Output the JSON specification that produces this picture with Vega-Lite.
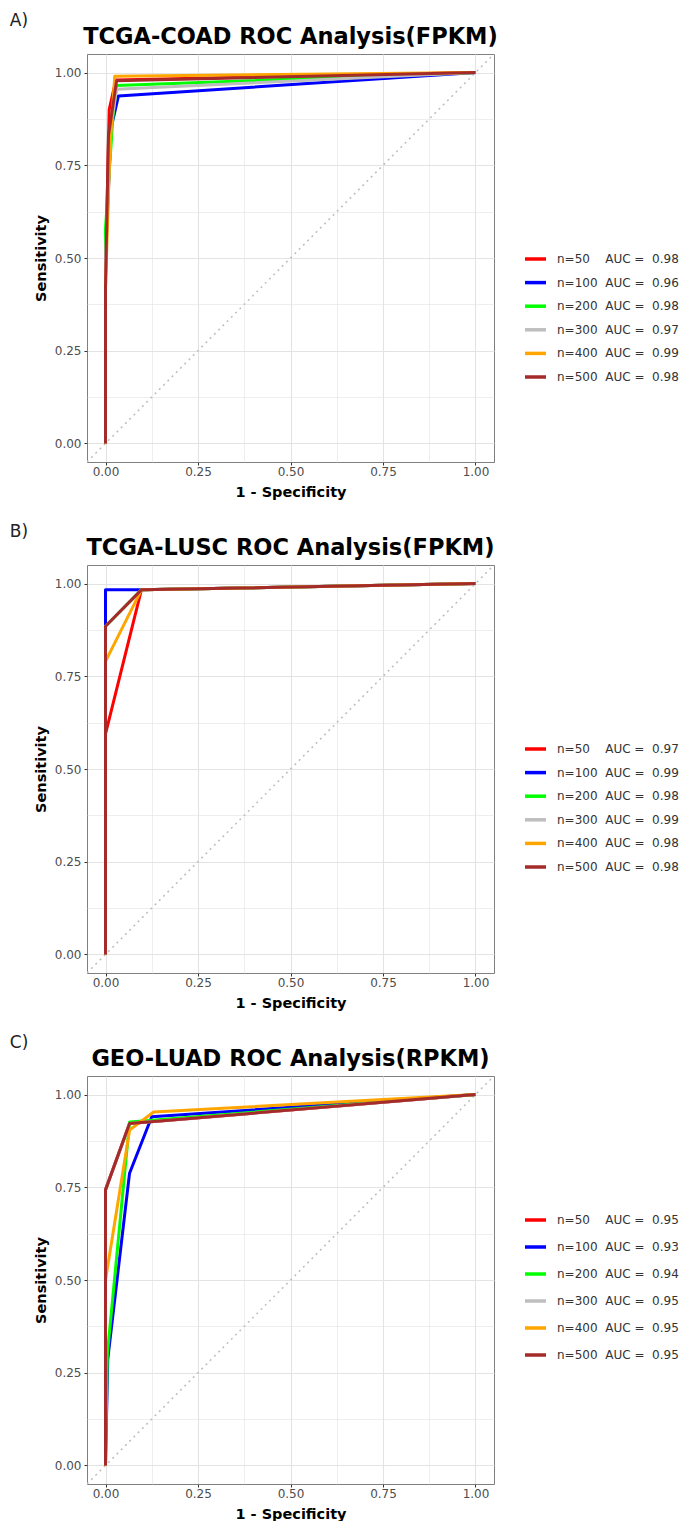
{
  "$schema": "https://vega.github.io/schema/vega-lite/v6.json",
  "padding": {"left": 9, "top": 12, "right": 0, "bottom": 0},
  "spacing": 24,
  "resolve": {"scale": {"color": "independent"}, "legend": {"color": "independent"}},
  "config": {
    "font": "DejaVu Sans",
    "view": {"stroke": "#7f7f7f", "strokeWidth": 1},
    "axis": {"domain": false, "gridColor": "#e3e3e3", "tickColor": "#333333", "tickSize": 3, "labelFontSize": 12, "labelColor": "#4d4d4d", "labelPadding": 3, "titleFontSize": 14.5, "titleFontWeight": "bold", "titleColor": "#000000", "titlePadding": 6, "labelOverlap": false, "labelFlush": false},
    "axisX": {"labelPadding": 1, "titlePadding": 8},
    "legend": {"symbolType": "stroke", "symbolSize": 441, "symbolStrokeWidth": 3.5, "labelFontSize": 12, "labelColor": "#333333", "labelOffset": 9, "rowPadding": 3.6, "padding": 0, "orient": "none", "labelLimit": 200}
  },
  "vconcat": [
    {
      "title": {"text": "A)", "anchor": "start", "frame": "bounds", "fontSize": 17, "fontWeight": "normal", "color": "#222222", "dx": -23, "offset": -5},
      "resolve": {"scale": {"color": "independent"}},
      "vconcat": [
        {
          "title": {"text": "TCGA-COAD ROC Analysis(FPKM)", "anchor": "middle", "frame": "group", "fontSize": 22.5, "fontWeight": "bold", "color": "#000000", "offset": 6},
          "width": 407, "height": 408,
          "encoding": {
            "x": {"field": "x", "type": "quantitative", "scale": {"domain": [-0.05, 1.05], "nice": false, "zero": false},
              "axis": {"title": "1 - Specificity", "values": [0, 0.125, 0.25, 0.375, 0.5, 0.625, 0.75, 0.875, 1], "labelExpr": "(datum.value*4)%1===0 ? format(datum.value,'.2f') : ''", "tickOpacity": {"condition": {"test": "(datum.value*4)%1===0", "value": 1}, "value": 0}, "gridWidth": {"condition": {"test": "(datum.value*4)%1===0", "value": 1.1}, "value": 0.6}}},
            "y": {"field": "y", "type": "quantitative", "scale": {"domain": [-0.05, 1.05], "nice": false, "zero": false},
              "axis": {"title": "Sensitivity", "values": [0, 0.125, 0.25, 0.375, 0.5, 0.625, 0.75, 0.875, 1], "labelExpr": "(datum.value*4)%1===0 ? format(datum.value,'.2f') : ''", "tickOpacity": {"condition": {"test": "(datum.value*4)%1===0", "value": 1}, "value": 0}, "gridWidth": {"condition": {"test": "(datum.value*4)%1===0", "value": 1.1}, "value": 0.6}}}
          },
          "layer": [
            {"data": {"values": [{"x": -0.05, "y": -0.05}, {"x": 1.05, "y": 1.05}]},
             "mark": {"type": "line", "color": "#bdbdbd", "strokeDash": [2, 4], "strokeWidth": 1.5, "clip": true}},
            {"data": {"values": [
              {"g": "n=50\u00a0\u00a0\u00a0\u00a0AUC\u00a0=\u00a0\u00a00.98", "i": 0, "x": 0, "y": 0},
              {"g": "n=50\u00a0\u00a0\u00a0\u00a0AUC\u00a0=\u00a0\u00a00.98", "i": 1, "x": 0, "y": 0.45},
              {"g": "n=50\u00a0\u00a0\u00a0\u00a0AUC\u00a0=\u00a0\u00a00.98", "i": 2, "x": 0.01, "y": 0.9},
              {"g": "n=50\u00a0\u00a0\u00a0\u00a0AUC\u00a0=\u00a0\u00a00.98", "i": 3, "x": 0.028, "y": 0.98},
              {"g": "n=50\u00a0\u00a0\u00a0\u00a0AUC\u00a0=\u00a0\u00a00.98", "i": 4, "x": 1, "y": 1},
              {"g": "n=100\u00a0\u00a0AUC\u00a0=\u00a0\u00a00.96", "i": 0, "x": 0, "y": 0},
              {"g": "n=100\u00a0\u00a0AUC\u00a0=\u00a0\u00a00.96", "i": 1, "x": 0, "y": 0.5},
              {"g": "n=100\u00a0\u00a0AUC\u00a0=\u00a0\u00a00.96", "i": 2, "x": 0.015, "y": 0.85},
              {"g": "n=100\u00a0\u00a0AUC\u00a0=\u00a0\u00a00.96", "i": 3, "x": 0.035, "y": 0.937},
              {"g": "n=100\u00a0\u00a0AUC\u00a0=\u00a0\u00a00.96", "i": 4, "x": 1, "y": 1},
              {"g": "n=200\u00a0\u00a0AUC\u00a0=\u00a0\u00a00.98", "i": 0, "x": 0, "y": 0},
              {"g": "n=200\u00a0\u00a0AUC\u00a0=\u00a0\u00a00.98", "i": 1, "x": 0, "y": 0.58},
              {"g": "n=200\u00a0\u00a0AUC\u00a0=\u00a0\u00a00.98", "i": 2, "x": 0.02, "y": 0.88},
              {"g": "n=200\u00a0\u00a0AUC\u00a0=\u00a0\u00a00.98", "i": 3, "x": 0.03, "y": 0.965},
              {"g": "n=200\u00a0\u00a0AUC\u00a0=\u00a0\u00a00.98", "i": 4, "x": 1, "y": 1},
              {"g": "n=300\u00a0\u00a0AUC\u00a0=\u00a0\u00a00.97", "i": 0, "x": 0, "y": 0},
              {"g": "n=300\u00a0\u00a0AUC\u00a0=\u00a0\u00a00.97", "i": 1, "x": 0, "y": 0.5},
              {"g": "n=300\u00a0\u00a0AUC\u00a0=\u00a0\u00a00.97", "i": 2, "x": 0.015, "y": 0.86},
              {"g": "n=300\u00a0\u00a0AUC\u00a0=\u00a0\u00a00.97", "i": 3, "x": 0.03, "y": 0.955},
              {"g": "n=300\u00a0\u00a0AUC\u00a0=\u00a0\u00a00.97", "i": 4, "x": 1, "y": 1},
              {"g": "n=400\u00a0\u00a0AUC\u00a0=\u00a0\u00a00.99", "i": 0, "x": 0, "y": 0},
              {"g": "n=400\u00a0\u00a0AUC\u00a0=\u00a0\u00a00.99", "i": 1, "x": 0, "y": 0.42},
              {"g": "n=400\u00a0\u00a0AUC\u00a0=\u00a0\u00a00.99", "i": 2, "x": 0.012, "y": 0.8},
              {"g": "n=400\u00a0\u00a0AUC\u00a0=\u00a0\u00a00.99", "i": 3, "x": 0.025, "y": 0.99},
              {"g": "n=400\u00a0\u00a0AUC\u00a0=\u00a0\u00a00.99", "i": 4, "x": 1, "y": 1},
              {"g": "n=500\u00a0\u00a0AUC\u00a0=\u00a0\u00a00.98", "i": 0, "x": 0, "y": 0},
              {"g": "n=500\u00a0\u00a0AUC\u00a0=\u00a0\u00a00.98", "i": 1, "x": 0, "y": 0.42},
              {"g": "n=500\u00a0\u00a0AUC\u00a0=\u00a0\u00a00.98", "i": 2, "x": 0.008, "y": 0.83},
              {"g": "n=500\u00a0\u00a0AUC\u00a0=\u00a0\u00a00.98", "i": 3, "x": 0.03, "y": 0.978},
              {"g": "n=500\u00a0\u00a0AUC\u00a0=\u00a0\u00a00.98", "i": 4, "x": 1, "y": 1}
            ]},
             "mark": {"type": "line", "strokeWidth": 3, "strokeJoin": "round"},
             "encoding": {
               "order": {"field": "i", "type": "quantitative"},
               "color": {"field": "g", "type": "nominal",
                 "scale": {"domain": ["n=50\u00a0\u00a0\u00a0\u00a0AUC\u00a0=\u00a0\u00a00.98", "n=100\u00a0\u00a0AUC\u00a0=\u00a0\u00a00.96", "n=200\u00a0\u00a0AUC\u00a0=\u00a0\u00a00.98", "n=300\u00a0\u00a0AUC\u00a0=\u00a0\u00a00.97", "n=400\u00a0\u00a0AUC\u00a0=\u00a0\u00a00.99", "n=500\u00a0\u00a0AUC\u00a0=\u00a0\u00a00.98"],
                           "range": ["#ff0000", "#0000ff", "#00ff00", "#bebebe", "#ffa500", "#a52a2a"]},
                 "legend": {"title": null, "legendX": 436, "legendY": 192.5}}
             }}
          ]
        }
      ]
    },
    {
      "title": {"text": "B)", "anchor": "start", "frame": "bounds", "fontSize": 17, "fontWeight": "normal", "color": "#222222", "dx": -23, "offset": -5},
      "resolve": {"scale": {"color": "independent"}},
      "vconcat": [
        {
          "title": {"text": "TCGA-LUSC ROC Analysis(FPKM)", "anchor": "middle", "frame": "group", "fontSize": 22.5, "fontWeight": "bold", "color": "#000000", "offset": 6},
          "width": 407, "height": 408,
          "encoding": {
            "x": {"field": "x", "type": "quantitative", "scale": {"domain": [-0.05, 1.05], "nice": false, "zero": false},
              "axis": {"title": "1 - Specificity", "values": [0, 0.125, 0.25, 0.375, 0.5, 0.625, 0.75, 0.875, 1], "labelExpr": "(datum.value*4)%1===0 ? format(datum.value,'.2f') : ''", "tickOpacity": {"condition": {"test": "(datum.value*4)%1===0", "value": 1}, "value": 0}, "gridWidth": {"condition": {"test": "(datum.value*4)%1===0", "value": 1.1}, "value": 0.6}}},
            "y": {"field": "y", "type": "quantitative", "scale": {"domain": [-0.05, 1.05], "nice": false, "zero": false},
              "axis": {"title": "Sensitivity", "values": [0, 0.125, 0.25, 0.375, 0.5, 0.625, 0.75, 0.875, 1], "labelExpr": "(datum.value*4)%1===0 ? format(datum.value,'.2f') : ''", "tickOpacity": {"condition": {"test": "(datum.value*4)%1===0", "value": 1}, "value": 0}, "gridWidth": {"condition": {"test": "(datum.value*4)%1===0", "value": 1.1}, "value": 0.6}}}
          },
          "layer": [
            {"data": {"values": [{"x": -0.05, "y": -0.05}, {"x": 1.05, "y": 1.05}]},
             "mark": {"type": "line", "color": "#bdbdbd", "strokeDash": [2, 4], "strokeWidth": 1.5, "clip": true}},
            {"data": {"values": [
              {"g": "n=50\u00a0\u00a0\u00a0\u00a0AUC\u00a0=\u00a0\u00a00.97", "i": 0, "x": 0, "y": 0},
              {"g": "n=50\u00a0\u00a0\u00a0\u00a0AUC\u00a0=\u00a0\u00a00.97", "i": 1, "x": 0, "y": 0.595},
              {"g": "n=50\u00a0\u00a0\u00a0\u00a0AUC\u00a0=\u00a0\u00a00.97", "i": 2, "x": 0.097, "y": 0.983},
              {"g": "n=50\u00a0\u00a0\u00a0\u00a0AUC\u00a0=\u00a0\u00a00.97", "i": 3, "x": 1, "y": 1},
              {"g": "n=100\u00a0\u00a0AUC\u00a0=\u00a0\u00a00.99", "i": 0, "x": 0, "y": 0},
              {"g": "n=100\u00a0\u00a0AUC\u00a0=\u00a0\u00a00.99", "i": 1, "x": 0, "y": 0.983},
              {"g": "n=100\u00a0\u00a0AUC\u00a0=\u00a0\u00a00.99", "i": 2, "x": 0.09, "y": 0.983},
              {"g": "n=100\u00a0\u00a0AUC\u00a0=\u00a0\u00a00.99", "i": 3, "x": 1, "y": 1},
              {"g": "n=200\u00a0\u00a0AUC\u00a0=\u00a0\u00a00.98", "i": 0, "x": 0, "y": 0},
              {"g": "n=200\u00a0\u00a0AUC\u00a0=\u00a0\u00a00.98", "i": 1, "x": 0, "y": 0.885},
              {"g": "n=200\u00a0\u00a0AUC\u00a0=\u00a0\u00a00.98", "i": 2, "x": 0.097, "y": 0.983},
              {"g": "n=200\u00a0\u00a0AUC\u00a0=\u00a0\u00a00.98", "i": 3, "x": 1, "y": 1},
              {"g": "n=300\u00a0\u00a0AUC\u00a0=\u00a0\u00a00.99", "i": 0, "x": 0, "y": 0},
              {"g": "n=300\u00a0\u00a0AUC\u00a0=\u00a0\u00a00.99", "i": 1, "x": 0, "y": 0.885},
              {"g": "n=300\u00a0\u00a0AUC\u00a0=\u00a0\u00a00.99", "i": 2, "x": 0.097, "y": 0.983},
              {"g": "n=300\u00a0\u00a0AUC\u00a0=\u00a0\u00a00.99", "i": 3, "x": 1, "y": 1},
              {"g": "n=400\u00a0\u00a0AUC\u00a0=\u00a0\u00a00.98", "i": 0, "x": 0, "y": 0},
              {"g": "n=400\u00a0\u00a0AUC\u00a0=\u00a0\u00a00.98", "i": 1, "x": 0, "y": 0.79},
              {"g": "n=400\u00a0\u00a0AUC\u00a0=\u00a0\u00a00.98", "i": 2, "x": 0.097, "y": 0.983},
              {"g": "n=400\u00a0\u00a0AUC\u00a0=\u00a0\u00a00.98", "i": 3, "x": 1, "y": 1},
              {"g": "n=500\u00a0\u00a0AUC\u00a0=\u00a0\u00a00.98", "i": 0, "x": 0, "y": 0},
              {"g": "n=500\u00a0\u00a0AUC\u00a0=\u00a0\u00a00.98", "i": 1, "x": 0, "y": 0.885},
              {"g": "n=500\u00a0\u00a0AUC\u00a0=\u00a0\u00a00.98", "i": 2, "x": 0.097, "y": 0.983},
              {"g": "n=500\u00a0\u00a0AUC\u00a0=\u00a0\u00a00.98", "i": 3, "x": 1, "y": 1}
            ]},
             "mark": {"type": "line", "strokeWidth": 3, "strokeJoin": "round"},
             "encoding": {
               "order": {"field": "i", "type": "quantitative"},
               "color": {"field": "g", "type": "nominal",
                 "scale": {"domain": ["n=50\u00a0\u00a0\u00a0\u00a0AUC\u00a0=\u00a0\u00a00.97", "n=100\u00a0\u00a0AUC\u00a0=\u00a0\u00a00.99", "n=200\u00a0\u00a0AUC\u00a0=\u00a0\u00a00.98", "n=300\u00a0\u00a0AUC\u00a0=\u00a0\u00a00.99", "n=400\u00a0\u00a0AUC\u00a0=\u00a0\u00a00.98", "n=500\u00a0\u00a0AUC\u00a0=\u00a0\u00a00.98"],
                           "range": ["#ff0000", "#0000ff", "#00ff00", "#bebebe", "#ffa500", "#a52a2a"]},
                 "legend": {"title": null, "legendX": 436, "legendY": 171.5}}
             }}
          ]
        }
      ]
    },
    {
      "title": {"text": "C)", "anchor": "start", "frame": "bounds", "fontSize": 17, "fontWeight": "normal", "color": "#222222", "dx": -23, "offset": -5},
      "resolve": {"scale": {"color": "independent"}},
      "vconcat": [
        {
          "title": {"text": "GEO-LUAD ROC Analysis(RPKM)", "anchor": "middle", "frame": "group", "fontSize": 22.5, "fontWeight": "bold", "color": "#000000", "offset": 6},
          "width": 407, "height": 408,
          "encoding": {
            "x": {"field": "x", "type": "quantitative", "scale": {"domain": [-0.05, 1.05], "nice": false, "zero": false},
              "axis": {"title": "1 - Specificity", "values": [0, 0.125, 0.25, 0.375, 0.5, 0.625, 0.75, 0.875, 1], "labelExpr": "(datum.value*4)%1===0 ? format(datum.value,'.2f') : ''", "tickOpacity": {"condition": {"test": "(datum.value*4)%1===0", "value": 1}, "value": 0}, "gridWidth": {"condition": {"test": "(datum.value*4)%1===0", "value": 1.1}, "value": 0.6}}},
            "y": {"field": "y", "type": "quantitative", "scale": {"domain": [-0.05, 1.05], "nice": false, "zero": false},
              "axis": {"title": "Sensitivity", "values": [0, 0.125, 0.25, 0.375, 0.5, 0.625, 0.75, 0.875, 1], "labelExpr": "(datum.value*4)%1===0 ? format(datum.value,'.2f') : ''", "tickOpacity": {"condition": {"test": "(datum.value*4)%1===0", "value": 1}, "value": 0}, "gridWidth": {"condition": {"test": "(datum.value*4)%1===0", "value": 1.1}, "value": 0.6}}}
          },
          "layer": [
            {"data": {"values": [{"x": -0.05, "y": -0.05}, {"x": 1.05, "y": 1.05}]},
             "mark": {"type": "line", "color": "#bdbdbd", "strokeDash": [2, 4], "strokeWidth": 1.5, "clip": true}},
            {"data": {"values": [
              {"g": "n=50\u00a0\u00a0\u00a0\u00a0AUC\u00a0=\u00a0\u00a00.95", "i": 0, "x": 0, "y": 0},
              {"g": "n=50\u00a0\u00a0\u00a0\u00a0AUC\u00a0=\u00a0\u00a00.95", "i": 1, "x": 0, "y": 0.743},
              {"g": "n=50\u00a0\u00a0\u00a0\u00a0AUC\u00a0=\u00a0\u00a00.95", "i": 2, "x": 0.065, "y": 0.922},
              {"g": "n=50\u00a0\u00a0\u00a0\u00a0AUC\u00a0=\u00a0\u00a00.95", "i": 3, "x": 1, "y": 1},
              {"g": "n=100\u00a0\u00a0AUC\u00a0=\u00a0\u00a00.93", "i": 0, "x": 0, "y": 0},
              {"g": "n=100\u00a0\u00a0AUC\u00a0=\u00a0\u00a00.93", "i": 1, "x": 0.006, "y": 0.286},
              {"g": "n=100\u00a0\u00a0AUC\u00a0=\u00a0\u00a00.93", "i": 2, "x": 0.065, "y": 0.788},
              {"g": "n=100\u00a0\u00a0AUC\u00a0=\u00a0\u00a00.93", "i": 3, "x": 0.125, "y": 0.94},
              {"g": "n=100\u00a0\u00a0AUC\u00a0=\u00a0\u00a00.93", "i": 4, "x": 1, "y": 1},
              {"g": "n=200\u00a0\u00a0AUC\u00a0=\u00a0\u00a00.94", "i": 0, "x": 0, "y": 0},
              {"g": "n=200\u00a0\u00a0AUC\u00a0=\u00a0\u00a00.94", "i": 1, "x": 0.005, "y": 0.3},
              {"g": "n=200\u00a0\u00a0AUC\u00a0=\u00a0\u00a00.94", "i": 2, "x": 0.065, "y": 0.926},
              {"g": "n=200\u00a0\u00a0AUC\u00a0=\u00a0\u00a00.94", "i": 3, "x": 1, "y": 1},
              {"g": "n=300\u00a0\u00a0AUC\u00a0=\u00a0\u00a00.95", "i": 0, "x": 0, "y": 0},
              {"g": "n=300\u00a0\u00a0AUC\u00a0=\u00a0\u00a00.95", "i": 1, "x": 0, "y": 0.743},
              {"g": "n=300\u00a0\u00a0AUC\u00a0=\u00a0\u00a00.95", "i": 2, "x": 0.065, "y": 0.922},
              {"g": "n=300\u00a0\u00a0AUC\u00a0=\u00a0\u00a00.95", "i": 3, "x": 1, "y": 1},
              {"g": "n=400\u00a0\u00a0AUC\u00a0=\u00a0\u00a00.95", "i": 0, "x": 0, "y": 0},
              {"g": "n=400\u00a0\u00a0AUC\u00a0=\u00a0\u00a00.95", "i": 1, "x": 0, "y": 0.5},
              {"g": "n=400\u00a0\u00a0AUC\u00a0=\u00a0\u00a00.95", "i": 2, "x": 0.065, "y": 0.904},
              {"g": "n=400\u00a0\u00a0AUC\u00a0=\u00a0\u00a00.95", "i": 3, "x": 0.13, "y": 0.953},
              {"g": "n=400\u00a0\u00a0AUC\u00a0=\u00a0\u00a00.95", "i": 4, "x": 1, "y": 1},
              {"g": "n=500\u00a0\u00a0AUC\u00a0=\u00a0\u00a00.95", "i": 0, "x": 0, "y": 0},
              {"g": "n=500\u00a0\u00a0AUC\u00a0=\u00a0\u00a00.95", "i": 1, "x": 0, "y": 0.743},
              {"g": "n=500\u00a0\u00a0AUC\u00a0=\u00a0\u00a00.95", "i": 2, "x": 0.065, "y": 0.922},
              {"g": "n=500\u00a0\u00a0AUC\u00a0=\u00a0\u00a00.95", "i": 3, "x": 1, "y": 1}
            ]},
             "mark": {"type": "line", "strokeWidth": 3, "strokeJoin": "round"},
             "encoding": {
               "order": {"field": "i", "type": "quantitative"},
               "color": {"field": "g", "type": "nominal",
                 "scale": {"domain": ["n=50\u00a0\u00a0\u00a0\u00a0AUC\u00a0=\u00a0\u00a00.95", "n=100\u00a0\u00a0AUC\u00a0=\u00a0\u00a00.93", "n=200\u00a0\u00a0AUC\u00a0=\u00a0\u00a00.94", "n=300\u00a0\u00a0AUC\u00a0=\u00a0\u00a00.95", "n=400\u00a0\u00a0AUC\u00a0=\u00a0\u00a00.95", "n=500\u00a0\u00a0AUC\u00a0=\u00a0\u00a00.95"],
                           "range": ["#ff0000", "#0000ff", "#00ff00", "#bebebe", "#ffa500", "#a52a2a"]},
                 "legend": {"title": null, "legendX": 436, "legendY": 131.5, "rowPadding": 7}}
             }}
          ]
        }
      ]
    }
  ]
}
